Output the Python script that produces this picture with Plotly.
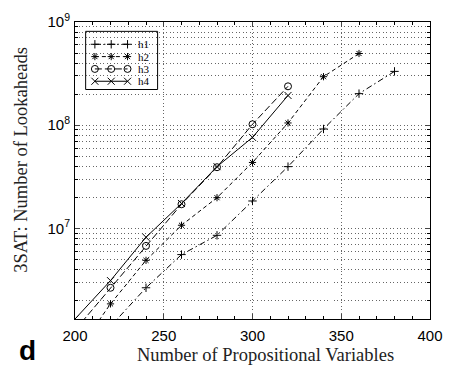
import plotly.graph_objects as go

# Number of propositional variables for each heuristic run
x_h1 = [220, 240, 260, 280, 300, 320, 340, 360, 380]
x_h2 = [200, 220, 240, 260, 280, 300, 320, 340, 360]
x_h3 = [200, 220, 240, 260, 280, 300, 320]
x_h4 = [200, 220, 240, 260, 280, 300, 320]

# Number of lookaheads (3SAT)
y_h1 = [1.12e6, 2.65e6, 5.56e6, 8.55e6, 1.84e7, 3.96e7, 9.18e7, 2.02e8, 3.32e8]
y_h2 = [5.9e5, 1.85e6, 4.89e6, 1.07e7, 1.98e7, 4.35e7, 1.05e8, 2.95e8, 4.95e8]
y_h3 = [1.03e6, 2.65e6, 6.75e6, 1.71e7, 3.91e7, 1.02e8, 2.38e8]
y_h4 = [1.32e6, 3.11e6, 8.19e6, 1.74e7, 3.96e7, 7.61e7, 1.94e8]

names = ["h1", "h2", "h3", "h4"]
x_ticks = [200, 250, 300, 350, 400]
y_ticks = [1e7, 1e8, 1e9]
y_ticktext = ["10<sup>7</sup>", "10<sup>8</sup>", "10<sup>9</sup>"]

styles = [
    dict(symbol="cross-thin-open", size=6, dash="6px,3px,1.5px,3px"),
    dict(symbol="asterisk-open", size=6, dash="4px,3px"),
    dict(symbol="circle-open", size=7, dash="7px,3px"),
    dict(symbol="x-thin-open", size=7, dash="solid"),
]
series = [(x_h1, y_h1), (x_h2, y_h2), (x_h3, y_h3), (x_h4, y_h4)]

fig = go.Figure()
for (xs, ys), st, nm in zip(series, styles, names):
    fig.add_trace(go.Scatter(
        x=xs, y=ys, name=nm, mode="lines+markers", showlegend=False,
        line=dict(color="black", width=1, dash=st["dash"]),
        marker=dict(symbol=st["symbol"], size=st["size"], color="black",
                    line=dict(color="black", width=1)),
    ))

# Boxed key in the upper-left corner (paper fractions on an overlay axis)
key_x = [0.056, 0.102, 0.148]
key_y0, key_dy = 0.925, 0.0415
for i, (st, nm) in enumerate(zip(styles, names)):
    yk = key_y0 - i * key_dy
    fig.add_trace(go.Scatter(
        x=key_x, y=[yk] * 3, xaxis="x2", yaxis="y2", mode="lines+markers",
        showlegend=False, hoverinfo="skip",
        line=dict(color="black", width=1, dash=st["dash"]),
        marker=dict(symbol=st["symbol"], size=st["size"], color="black",
                    line=dict(color="black", width=1)),
    ))
    fig.add_annotation(x=0.172, y=yk, xref="paper", yref="paper", text=nm,
                       showarrow=False, xanchor="left", yanchor="middle",
                       font=dict(family="Liberation Serif", size=11, color="black"))

fig.add_shape(type="rect", xref="paper", yref="paper", x0=0.030, x1=0.2327,
              y0=0.7727, y1=0.9685, line=dict(color="black", width=1),
              fillcolor="white", layer="between")

grid = dict(gridcolor="#666", griddash="1px,2.5px", gridwidth=1)

fig.update_layout(
    width=454, height=368,
    margin=dict(l=75, r=21, t=11, b=49),
    paper_bgcolor="white", plot_bgcolor="white",
    font=dict(family="Liberation Sans", size=14, color="black"),
    xaxis=dict(
        range=[200, 400], tickvals=x_ticks, ticks="inside", ticklen=5,
        showline=True, linecolor="black", linewidth=1, mirror="allticks",
        showgrid=True, **grid, zeroline=False, ticklabelstandoff=3,
        minor=dict(dtick=10, ticks="inside", ticklen=3, tickcolor="black",
                   showgrid=False),
        tickfont=dict(family="Liberation Sans", size=15),
    ),
    yaxis=dict(
        type="log", range=[6.1206, 9], tickvals=y_ticks, ticktext=y_ticktext,
        ticks="inside", ticklen=5, showline=True, linecolor="black",
        linewidth=1, mirror="allticks", showgrid=True, **grid,
        ticklabelstandoff=1,
        minor=dict(tickvals=[m * 10 ** e for e in (6, 7, 8) for m in range(2, 10)],
                   ticks="inside", ticklen=3, tickcolor="black",
                   showgrid=True, **grid),
        tickfont=dict(family="Liberation Sans", size=15),
    ),
    xaxis2=dict(overlaying="x", range=[0, 1], visible=False),
    yaxis2=dict(overlaying="y", range=[0, 1], visible=False),
)

fig.add_annotation(x=0.537, y=-0.12, xref="paper", yref="paper",
                   text="Number of Propositional Variables", showarrow=False,
                   xanchor="center", yanchor="middle",
                   font=dict(family="Liberation Serif", size=18.5, color="#222"))
fig.add_annotation(x=0, y=0.536, xref="paper", yref="paper", xshift=-54,
                   text="3SAT: Number of Lookaheads", showarrow=False,
                   textangle=-90, xanchor="center", yanchor="middle",
                   font=dict(family="Liberation Serif", size=18.5, color="#222"))
fig.add_annotation(x=0, y=-0.1055, xref="paper", yref="paper", xshift=-48,
                   text="<b>d</b>", showarrow=False, xanchor="center",
                   yanchor="middle",
                   font=dict(family="Liberation Sans", size=28, color="black"))

fig.write_html("out.html")
